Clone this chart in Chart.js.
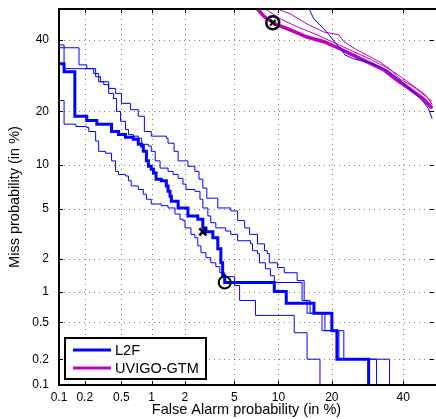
<!DOCTYPE html>
<html>
<head>
<meta charset="utf-8">
<script src="https://cdn.jsdelivr.net/npm/chart.js@4.4.1/dist/chart.umd.min.js"></script>
<style>
  html, body { margin: 0; padding: 0; overflow: hidden; background: #fff; }
  #wrap { width: 443px; height: 419px; }
</style>
</head>
<body>
<div id="wrap"><canvas id="detChart" width="443" height="419"></canvas></div>
<script>
// axis ticks (in %), same on both axes
const tickValues = [0.1, 0.2, 0.5, 1, 2, 5, 10, 20, 40];
const tickLabels = ['0.1', '0.2', '0.5', '1', '2', '5', '10', '20', '40'];
const axisMin = 0.1;
const axisMax = 50;

const legendLabels = ['L2F', 'UVIGO-GTM'];
const blue = '#0000ff';
const magenta = '#c000c0';

// L2F main curve (false alarm %, miss %)
const l2fFa   = [0.1, 0.115, 0.154, 0.211, 0.273, 0.394, 0.466, 0.55, 0.66, 0.74, 0.80, 0.83, 0.89, 0.93, 0.99, 1.04, 1.10, 1.23, 1.37, 1.42, 1.48, 1.52, 1.75, 2.13, 2.58, 2.84, 3.01, 3.42, 3.74, 3.95, 4.08, 4.23, 9.41, 11.17, 16.13, 20.0, 21.19, 29.5];
const l2fMiss = [32.6, 30.3, 18.9, 18.0, 17.2, 15.7, 15.1, 14.6, 14.2, 13.3, 13.0, 12.1, 10.6, 9.8, 9.4, 8.9, 8.1, 7.9, 7.3, 6.7, 6.2, 5.7, 5.1, 4.45, 4.2, 3.6, 3.35, 3.0, 2.44, 1.85, 1.42, 1.23, 1.01, 0.78, 0.62, 0.41, 0.2, 0.05];

// L2F thin curves
const l2fAFa   = [0.1, 0.172, 0.211, 0.265, 0.30, 0.367, 0.435, 0.50, 0.62, 0.74, 0.85, 0.99, 1.37, 1.42, 1.61, 1.75, 2.13, 2.44, 2.64, 2.84, 3.06, 3.74, 4.70, 5.28, 5.93, 6.43, 7.29, 8.12, 8.48, 8.74, 9.85, 10.86, 12.97, 14.23, 15.36, 18.44, 22.87, 35.7];
const l2fAMiss = [37.5, 32.3, 31.2, 28.9, 27.5, 25.7, 24.4, 21.9, 20.4, 18.9, 15.7, 14.8, 14.4, 13.5, 12.1, 10.6, 9.8, 9.1, 8.1, 7.05, 6.0, 5.1, 4.85, 4.1, 3.6, 3.2, 2.68, 2.35, 2.22, 1.85, 1.68, 1.51, 1.28, 0.83, 0.62, 0.41, 0.2, 0.05];

const l2fBFa   = [0.1, 0.115, 0.252, 0.286, 0.325, 0.367, 0.414, 0.445, 0.49, 0.55, 0.59, 0.66, 0.74, 0.80, 0.93, 0.99, 1.08, 1.20, 1.42, 1.58, 1.75, 1.93, 2.05, 2.44, 2.69, 2.84, 3.12, 3.29, 3.61, 4.30, 4.70, 5.28, 6.53, 6.74, 7.29, 7.52, 8.24, 8.88, 9.41, 13.85, 14.78, 17.80, 21.66, 31.8];
const l2fBMiss = [38.4, 31.2, 29.8, 27.5, 26.7, 24.4, 23.1, 20.0, 17.8, 16.1, 15.1, 14.8, 14.4, 13.3, 13.0, 12.1, 10.6, 9.55, 9.1, 8.7, 8.2, 7.5, 6.9, 6.7, 5.9, 5.1, 4.45, 3.95, 3.6, 3.4, 3.2, 2.84, 2.68, 2.35, 2.22, 1.85, 1.64, 1.42, 1.23, 0.83, 0.62, 0.41, 0.2, 0.05];

const l2fCFa   = [0.1, 0.115, 0.158, 0.211, 0.222, 0.265, 0.286, 0.34, 0.394, 0.435, 0.466, 0.55, 0.59, 0.63, 0.74, 0.83, 0.89, 0.99, 1.23, 1.42, 1.64, 1.82, 1.93, 2.01, 2.26, 2.44, 2.58, 2.74, 3.01, 3.29, 3.61, 3.88, 4.23, 5.02, 5.46, 7.06, 12.47, 14.78, 17.37];
const l2fCMiss = [22.6, 17.2, 16.7, 16.5, 15.7, 13.9, 12.1, 11.8, 10.6, 9.1, 8.7, 8.5, 7.9, 7.3, 6.9, 6.4, 5.9, 5.45, 5.3, 5.1, 4.6, 4.2, 4.1, 3.6, 3.2, 3.0, 2.58, 2.26, 2.05, 1.85, 1.71, 1.51, 1.39, 1.15, 0.83, 0.59, 0.39, 0.2, 0.05];

const l2fDFa   = [15.17, 16.13, 17.16, 18.22, 19.33, 21.19, 22.4, 23.1, 25.4, 28.95, 32.7, 35.7, 38.7, 41.9, 44.2, 46.4, 48.1, 49.4];
const l2fDMiss = [50, 46.7, 45.1, 43.5, 41.6, 38.4, 36.9, 35.3, 34.1, 33.2, 31.8, 30.3, 28.1, 25.7, 24.1, 22.4, 20.7, 18.4];

// UVIGO-GTM curves
const uvFa   = [7.29, 8.12, 9.85, 11.8, 14.78, 18.22, 21.9, 26.2, 30.9, 33.9, 37.8, 41.0, 46.4, 49.4];
const uvMiss = [50, 47.4, 44.8, 43.2, 40.9, 39.4, 37.2, 34.7, 32.3, 30.9, 28.1, 26.2, 23.1, 20.7];

const uvAFa   = [9.85, 11.8, 14.78, 18.22, 21.66, 22.87, 26.2, 28.95, 32.7, 35.7, 38.7, 43.2, 47.4, 49.4];
const uvAMiss = [50, 48.4, 45.1, 42.5, 41.6, 39.4, 36.9, 35.3, 33.2, 31.2, 28.4, 26.2, 23.6, 22.4];

const uvBFa   = [8.24, 10.3, 12.97, 16.75, 21.19, 25.4, 30.4, 34.8, 38.7, 43.2, 47.4, 49.4];
const uvBMiss = [50, 46.7, 44.2, 41.6, 38.7, 36.3, 33.8, 31.5, 29.2, 26.4, 23.9, 21.6];

// operating points
const l2fCrossPt  = [2.84, 3.35];
const l2fCirclePt = [4.23, 1.23];
const uvPt        = [9.2, 45.5];

const fontFamily = "'Liberation Sans', Arial, sans-serif";

// inverse normal cdf (Acklam)
function probit(p) {
  const a = [-3.969683028665376e+01, 2.209460984245205e+02, -2.759285104469687e+02, 1.383577518672690e+02, -3.066479806614716e+01, 2.506628277459239e+00];
  const b = [-5.447609879822406e+01, 1.615858368580409e+02, -1.556989798598866e+02, 6.680131188771972e+01, -1.328068155288572e+01];
  const c = [-7.784894002430293e-03, -3.223964580411365e-01, -2.400758277161838e+00, -2.549671348400990e+00, 4.374664141464968e+00, 2.938163982698783e+00];
  const d = [7.784695709041462e-03, 3.224671290700398e-01, 2.445134137142996e+00, 3.754408661907416e+00];
  const pl = 0.02425;
  let q, r;
  if (p < pl) {
    q = Math.sqrt(-2 * Math.log(p));
    return (((((c[0]*q+c[1])*q+c[2])*q+c[3])*q+c[4])*q+c[5]) / ((((d[0]*q+d[1])*q+d[2])*q+d[3])*q+1);
  }
  if (p <= 1 - pl) {
    q = p - 0.5; r = q * q;
    return (((((a[0]*r+a[1])*r+a[2])*r+a[3])*r+a[4])*r+a[5])*q / (((((b[0]*r+b[1])*r+b[2])*r+b[3])*r+b[4])*r+1);
  }
  q = Math.sqrt(-2 * Math.log(1 - p));
  return -(((((c[0]*q+c[1])*q+c[2])*q+c[3])*q+c[4])*q+c[5]) / ((((d[0]*q+d[1])*q+d[2])*q+d[3])*q+1);
}
const dev = v => probit(v / 100);

function pts(fa, miss) {
  return fa.map((v, i) => ({ x: dev(v), y: dev(miss[i]) }));
}

function curve(fa, miss, color, width, stepped) {
  return { data: pts(fa, miss), borderColor: color, borderWidth: width, stepped: stepped,
           pointRadius: 0, fill: false, tension: 0 };
}
function marker(p, style, radius, width) {
  return { data: pts([p[0]], [p[1]]), showLine: false, pointStyle: style, pointRadius: radius,
           borderColor: '#000', borderWidth: width, backgroundColor: 'rgba(0,0,0,0)' };
}

// grid, frame, inner ticks and legend box
const detDecor = {
  id: 'detDecor',
  beforeDatasetsDraw(chart) {
    const { ctx, chartArea: a, scales: { x, y } } = chart;
    ctx.save();
    ctx.strokeStyle = 'rgba(0,0,0,0.5)';
    ctx.lineWidth = 1;
    ctx.setLineDash([1, 4]);
    tickValues.forEach(v => {
      const px = Math.round(x.getPixelForValue(dev(v))) + 0.5;
      const py = Math.round(y.getPixelForValue(dev(v))) + 0.5;
      ctx.beginPath(); ctx.moveTo(px, a.top); ctx.lineTo(px, a.bottom); ctx.stroke();
      ctx.beginPath(); ctx.moveTo(a.left, py); ctx.lineTo(a.right, py); ctx.stroke();
    });
    ctx.restore();
  },
  afterDatasetsDraw(chart) {
    const { ctx, chartArea: a, scales: { x, y } } = chart;
    ctx.save();
    ctx.strokeStyle = '#000';
    ctx.lineWidth = 1;
    tickValues.forEach(v => {
      const px = Math.round(x.getPixelForValue(dev(v))) + 0.5;
      const py = Math.round(y.getPixelForValue(dev(v))) + 0.5;
      ctx.beginPath();
      ctx.moveTo(px, a.bottom); ctx.lineTo(px, a.bottom - 4);
      ctx.moveTo(px, a.top); ctx.lineTo(px, a.top + 4);
      ctx.moveTo(a.left, py); ctx.lineTo(a.left + 4, py);
      ctx.moveTo(a.right, py); ctx.lineTo(a.right - 4, py);
      ctx.stroke();
    });
    // left, top and bottom edges of the box (right edge falls outside the picture)
    ctx.lineWidth = 2;
    ctx.beginPath();
    ctx.moveTo(a.right + 2, a.top); ctx.lineTo(a.left, a.top);
    ctx.lineTo(a.left, a.bottom); ctx.lineTo(a.right + 2, a.bottom);
    ctx.stroke();

    // legend
    const bx = a.left + 6, bw = 141, bh = 41, by = a.bottom - 6 - bh;
    ctx.fillStyle = '#fff';
    ctx.fillRect(bx, by, bw, bh);
    ctx.strokeRect(bx, by, bw, bh);
    const colors = [blue, magenta];
    ctx.font = '14.5px ' + fontFamily;
    ctx.textBaseline = 'middle';
    ctx.textAlign = 'left';
    legendLabels.forEach((lab, i) => {
      const ly = by + 12 + i * 18;
      ctx.strokeStyle = colors[i];
      ctx.lineWidth = 3;
      ctx.beginPath(); ctx.moveTo(bx + 8, ly); ctx.lineTo(bx + 46, ly); ctx.stroke();
      ctx.fillStyle = '#000';
      ctx.fillText(lab, bx + 50, ly + 1);
    });
    ctx.restore();
  }
};

const tickFont = { family: fontFamily, size: 12 };
const titleFont = { family: fontFamily, size: 14.5 };

function axis(opts) {
  return Object.assign({
    type: 'linear',
    min: dev(axisMin),
    max: dev(axisMax),
    afterBuildTicks: s => { s.ticks = tickValues.map(v => ({ value: dev(v) })); },
    grid: { display: false, drawTicks: false },
    border: { display: false },
  }, opts);
}

new Chart(document.getElementById('detChart'), {
  type: 'line',
  data: {
    datasets: [
      marker(l2fCrossPt, 'crossRot', 5, 2.5),
      marker(l2fCirclePt, 'circle', 6, 2),
      marker(uvPt, 'circle', 6.5, 2.5),
      marker(uvPt, 'crossRot', 4, 2),
      curve(l2fFa, l2fMiss, blue, 3, true),
      curve(l2fAFa, l2fAMiss, blue, 1, true),
      curve(l2fBFa, l2fBMiss, blue, 1, true),
      curve(l2fCFa, l2fCMiss, blue, 1, true),
      curve(l2fDFa, l2fDMiss, blue, 1, false),
      curve(uvAFa, uvAMiss, magenta, 1, false),
      curve(uvBFa, uvBMiss, magenta, 1, false),
      curve(uvFa, uvMiss, magenta, 3.5, false),
    ]
  },
  options: {
    responsive: false,
    animation: false,
    layout: { padding: { top: 7, right: 2, bottom: 0, left: 0 } },
    plugins: { legend: { display: false }, tooltip: { enabled: false } },
    scales: {
      x: axis({
        afterFit: s => { s.height = 34; s.paddingLeft = 0; s.paddingRight = 0; },
        ticks: { callback: (v, i) => tickLabels[i], autoSkip: false, maxRotation: 0,
                 padding: 5, color: '#000', font: tickFont },
        title: { display: true, text: 'False Alarm probability (in %)', color: '#000',
                 font: titleFont, padding: { top: 0, bottom: 0 } }
      }),
      y: axis({
        afterFit: s => { s.width = 59; s.paddingTop = 0; s.paddingBottom = 0; },
        ticks: { callback: (v, i) => tickLabels[i], autoSkip: false,
                 padding: 10, color: '#000', font: tickFont },
        title: { display: true, text: 'Miss probability (in %)', color: '#000',
                 font: titleFont, padding: { top: 6, bottom: 0 } }
      })
    }
  },
  plugins: [detDecor]
});
</script>
</body>
</html>
